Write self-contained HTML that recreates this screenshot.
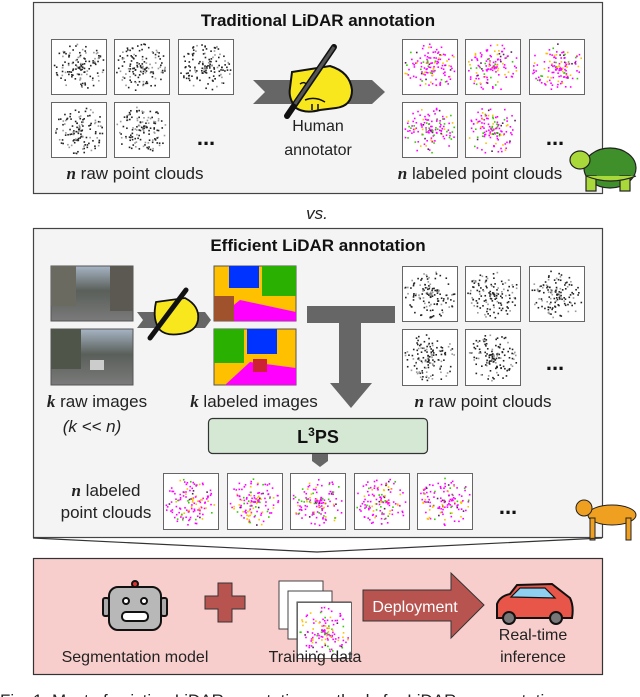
<!DOCTYPE html>
<html><head><meta charset="utf-8"><style>
body{margin:0;background:#fff;width:640px;height:697px;overflow:hidden}
svg{display:block}
text{font-family:"Liberation Sans",sans-serif}
</style></head><body>
<svg id="s" width="640" height="697" viewBox="0 0 640 697" xmlns="http://www.w3.org/2000/svg">
<!-- Box 1 -->
<rect x="33.5" y="2.5" width="569" height="191" fill="#f4f4f4" stroke="#444" stroke-width="1.2"/>
<text x="318" y="26" font-size="17" font-weight="bold" text-anchor="middle" fill="#111">Traditional LiDAR annotation</text>
<g id="g1"></g>
<polygon points="253,80 372,80 385,92 372,104 253,104 265,92" fill="#666"/>
<g>
<path d="M292,72 L330,66 Q350,72 352,90 Q352,106 336,108 L320,110 Q305,114 296,108 Q288,98 290,88 Z" fill="#f8e71c" stroke="#111" stroke-width="2"/>
<path d="M300,84 q6,-4 8,4 M305,100 q10,-4 20,2 M312,104 l0,6 M318,104 l0,6" fill="none" stroke="#111" stroke-width="1.5"/>
<line x1="334" y1="47" x2="287" y2="116" stroke="#111" stroke-width="6" stroke-linecap="round"/>
<line x1="334" y1="47" x2="295" y2="104" stroke="#555" stroke-width="3"/>
</g>
<text x="318" y="131" font-size="16" text-anchor="middle" fill="#222">Human</text>
<text x="318" y="155" font-size="16" text-anchor="middle" fill="#222">annotator</text>
<text x="135" y="179" font-size="17" text-anchor="middle" fill="#222"><tspan font-family="Liberation Serif" font-style="italic" font-weight="bold">n</tspan> raw point clouds</text>
<text x="480" y="179" font-size="17" text-anchor="middle" fill="#222"><tspan font-family="Liberation Serif" font-style="italic" font-weight="bold">n</tspan> labeled point clouds</text>
<text x="206" y="145" font-size="22" font-weight="bold" text-anchor="middle" fill="#111">...</text>
<text x="555" y="145" font-size="22" font-weight="bold" text-anchor="middle" fill="#111">...</text>
<g stroke="#222" stroke-width="1.2">
<ellipse cx="610" cy="168" rx="26" ry="20" fill="#3f8f2a"/>
<ellipse cx="580" cy="160" rx="10" ry="9" fill="#a8d83a"/>
<rect x="586" y="176" width="10" height="15" fill="#a8d83a"/>
<rect x="620" y="176" width="10" height="15" fill="#a8d83a"/>
<path d="M586,176 Q610,186 636,176" fill="#a8d83a"/>
</g>
<text x="317" y="219" font-size="17" font-style="italic" text-anchor="middle" fill="#222">vs.</text>

<!-- Box 2 -->
<rect x="33.5" y="228.5" width="569" height="309" fill="#f4f4f4" stroke="#444" stroke-width="1.2"/>
<g id="g2"></g>
<text x="318" y="251" font-size="17" font-weight="bold" text-anchor="middle" fill="#111">Efficient LiDAR annotation</text>
<defs>
<linearGradient id="st" x1="0" y1="0" x2="0" y2="1"><stop offset="0" stop-color="#a6b4c4"/><stop offset="0.45" stop-color="#5a5f5a"/><stop offset="1" stop-color="#7a7a7a"/></linearGradient>
</defs>
<rect x="51" y="266" width="82" height="55" fill="url(#st)" stroke="#555"/>
<rect x="51" y="266" width="25" height="40" fill="#6a6a60"/>
<rect x="110" y="266" width="23" height="45" fill="#5c5852"/>
<rect x="51" y="329" width="82" height="56" fill="url(#st)" stroke="#555"/>
<rect x="51" y="329" width="30" height="40" fill="#4f5548"/>
<rect x="90" y="360" width="14" height="10" fill="#ccc"/>
<g stroke="#555">
<rect x="214" y="266" width="82" height="55" fill="#ffc000"/>
<rect x="229" y="266" width="30" height="22" fill="#0033ff" stroke="none"/>
<rect x="262" y="266" width="34" height="30" fill="#2ab000" stroke="none"/>
<polygon points="214,321 240,300 296,312 296,321" fill="#ff00ff" stroke="none"/>
<rect x="214" y="296" width="20" height="25" fill="#a0522d" stroke="none"/>
<rect x="214" y="329" width="82" height="56" fill="#ffc000"/>
<rect x="214" y="329" width="30" height="34" fill="#2ab000" stroke="none"/>
<rect x="247" y="329" width="30" height="25" fill="#0033ff" stroke="none"/>
<polygon points="225,385 250,362 296,368 296,385" fill="#ff00ff" stroke="none"/>
<rect x="253" y="359" width="14" height="13" fill="#cc2233" stroke="none"/>
</g>
<polygon points="137,312 160,312 166,320 160,328 137,328 143,320" fill="#666"/>
<polygon points="190,312 205,312 211,320 205,328 190,328 196,320" fill="#666"/>
<path d="M156,302 L185,298 Q200,306 198,320 Q196,332 180,334 Q166,336 160,330 Q152,320 156,302 Z" fill="#f8e71c" stroke="#111" stroke-width="1.8"/>
<line x1="186" y1="290" x2="150" y2="338" stroke="#111" stroke-width="5" stroke-linecap="round"/>
<polygon points="307,306 395,306 395,323 361,323 361,383 372,383 351,408 330,383 339,383 339,323 307,323" fill="#666"/>
<text x="97" y="407" font-size="17" text-anchor="middle" fill="#222"><tspan font-family="Liberation Serif" font-style="italic" font-weight="bold">k</tspan> raw images</text>
<text x="92" y="432" font-size="17" text-anchor="middle" fill="#222" font-family="Liberation Serif" font-style="italic">(k &lt;&lt; n)</text>
<text x="254" y="407" font-size="17" text-anchor="middle" fill="#222"><tspan font-family="Liberation Serif" font-style="italic" font-weight="bold">k</tspan> labeled images</text>
<text x="483" y="407" font-size="17" text-anchor="middle" fill="#222"><tspan font-family="Liberation Serif" font-style="italic" font-weight="bold">n</tspan> raw point clouds</text>
<text x="555" y="370" font-size="22" font-weight="bold" text-anchor="middle" fill="#111">...</text>
<rect x="208.5" y="418.5" width="219" height="35" rx="4" fill="#d5e8d4" stroke="#333" stroke-width="1.2"/>
<text x="318" y="443" font-size="18" font-weight="bold" text-anchor="middle" fill="#111">L<tspan font-size="12" dy="-7">3</tspan><tspan dy="7">PS</tspan></text>
<polygon points="312,454 328,454 328,461 320,467 312,461" fill="#666"/>
<text x="106" y="496" font-size="17" text-anchor="middle" fill="#222"><tspan font-family="Liberation Serif" font-style="italic" font-weight="bold">n</tspan> labeled</text>
<text x="106" y="518" font-size="17" text-anchor="middle" fill="#222">point clouds</text>
<text x="508" y="514" font-size="22" font-weight="bold" text-anchor="middle" fill="#111">...</text>
<g fill="#f0a020" stroke="#222" stroke-width="1">
<ellipse cx="612" cy="515" rx="24" ry="10"/>
<circle cx="584" cy="508" r="8"/>
<rect x="590" y="518" width="5" height="22"/><rect x="626" y="518" width="5" height="22"/>
</g>
<polyline points="33,538 317,552 602,538" fill="none" stroke="#333" stroke-width="1.2"/>

<!-- Box 3 -->
<rect x="33.5" y="558.5" width="569" height="116" fill="#f8cecc" stroke="#333" stroke-width="1.2"/>
<g stroke="#111" stroke-width="2">
<circle cx="135" cy="584" r="3" fill="#d33"/>
<rect x="103" y="598" width="6" height="18" rx="2" fill="#aaa"/>
<rect x="161" y="598" width="6" height="18" rx="2" fill="#aaa"/>
<rect x="109" y="587" width="52" height="43" rx="9" fill="#b8b8b8"/>
<circle cx="126" cy="601" r="3" fill="#fff"/><circle cx="144" cy="601" r="3" fill="#fff"/>
<rect x="122" y="612" width="26" height="9" rx="4" fill="#fff"/>
</g>
<polygon points="218,583 232,583 232,596 245,596 245,609 232,609 232,622 218,622 218,609 205,609 205,596 218,596" fill="#b85450" stroke="#333" stroke-width="1"/>
<rect x="279" y="581" width="44" height="48" fill="#fff" stroke="#444"/>
<rect x="288" y="591" width="44" height="48" fill="#fff" stroke="#444"/>
<rect x="297" y="602" width="54" height="56" fill="#fff" stroke="#444"/>
<g id="g3"></g>
<polygon points="363,590 451,590 451,573 484,605 451,638 451,621 363,621" fill="#b85450" stroke="#333" stroke-width="1"/>
<text x="415" y="612" font-size="16" text-anchor="middle" fill="#fff">Deployment</text>
<g stroke="#111" stroke-width="2">
<path d="M497,618 L497,604 Q500,596 510,594 L517,585 L552,584 L570,598 Q574,606 572,618 Z" fill="#e8564a"/>
<path d="M511,597 L520,588 L545,588 L555,598 Z" fill="#8fd0f0" stroke-width="1.2"/>
<circle cx="509" cy="618" r="6" fill="#777"/><circle cx="556" cy="618" r="6" fill="#777"/>
</g>
<text x="533" y="640" font-size="16" text-anchor="middle" fill="#222">Real-time</text>
<text x="533" y="662" font-size="16" text-anchor="middle" fill="#222">inference</text>
<text x="135" y="662" font-size="16" text-anchor="middle" fill="#222">Segmentation model</text>
<text x="315" y="662" font-size="16" text-anchor="middle" fill="#222">Training data</text>
<text x="0" y="706" font-size="17" font-family="Liberation Serif" fill="#222">Fig. 1:   Most of existing LiDAR annotation methods for LiDAR segmentation are...</text>
</svg>
<script>
var seed=7;function r(){seed=(seed*16807)%2147483647;return (seed-1)/2147483646;}
var NS="http://www.w3.org/2000/svg";
function thumb(g,x,y,w,h,col){
 var rc=document.createElementNS(NS,"rect");rc.setAttribute("x",x+.5);rc.setAttribute("y",y+.5);rc.setAttribute("width",w);rc.setAttribute("height",h);rc.setAttribute("fill","#fff");rc.setAttribute("stroke","#666");g.appendChild(rc);
 var cx=x+w/2,cy=y+h/2;
 for(var i=0;i<130;i++){var a=r()*6.283,d=Math.pow(r(),0.8)*w*0.48;
  var px=cx+Math.cos(a)*d,py=cy+Math.sin(a)*d*0.9;if(px<x+2||px>x+w-3||py<y+2||py>y+h-3)continue;
  var c=document.createElementNS(NS,"rect");c.setAttribute("x",px);c.setAttribute("y",py);c.setAttribute("width",1.6);c.setAttribute("height",1.6);
  var f;if(col){var t=r();f=t<0.6?"#ff00ff":t<0.78?"#ffc000":t<0.92?"#33cc00":"#552255";}else{f=r()<0.7?"#222":"#999";}
  c.setAttribute("fill",f);g.appendChild(c);}
}
var g1=document.getElementById("g1"),g2=document.getElementById("g2"),g3=document.getElementById("g3");
[51,114,178].forEach(function(x){thumb(g1,x,39,55,55,false);});
[51,114].forEach(function(x){thumb(g1,x,102,55,55,false);});
[402,465,529].forEach(function(x){thumb(g1,x,39,55,55,true);});
[402,465].forEach(function(x){thumb(g1,x,102,55,55,true);});
[402,465,529].forEach(function(x){thumb(g2,x,266,55,55,false);});
[402,465].forEach(function(x){thumb(g2,x,329,55,56,false);});
[163,227,290,354,417].forEach(function(x){thumb(g2,x,473,55,56,true);});
thumb(g3,297,602,54,56,true);
</script>
</body></html>
